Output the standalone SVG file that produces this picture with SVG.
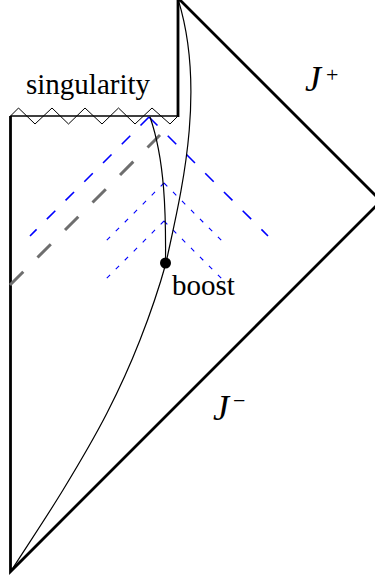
<svg xmlns="http://www.w3.org/2000/svg" width="375" height="575" viewBox="0 0 375 575">
  <style>
    .bd { fill: none; stroke: #000; stroke-width: 2.8; stroke-linejoin: miter; stroke-linecap: butt; }
    .thin { fill: none; stroke: #000; stroke-width: 1; }
    .wl { fill: none; stroke: #000; stroke-width: 1.2; }
    .bigblue { fill: none; stroke: #0000ff; stroke-width: 1.6; stroke-dasharray: 12 14.5; }
    .smallblue { fill: none; stroke: #0000ff; stroke-width: 1.1; stroke-dasharray: 4.7 8; }
    .gray { fill: none; stroke: #6e6e6e; stroke-width: 3; stroke-dasharray: 18.8 20.1; }
    .lbl { font-family: "Liberation Serif", "Times New Roman", serif; font-size: 29px; fill: #000; }
    .cal { font-family: "Liberation Serif", "Times New Roman", serif; font-style: italic; font-size: 36px; fill: #000; }
    .sup { font-family: "Liberation Serif", "Times New Roman", serif; font-size: 22px; fill: #000; }
  </style>
  <rect width="375" height="575" fill="#fff"/>
  <g id="connectors">
    <g id="boundary">
      <path class="bd" d="M10.5,116 L10.5,571.5 L381,201 L178,-2 L178,117"/>
      <line x1="10.5" y1="116" x2="178" y2="116" stroke="#000" stroke-width="1.6"/>
      <path class="thin" d="M10.5,116 L18.5,108 L35,124 L52,108 L68.5,124 L85,108 L102,124 L118.5,108 L135,124 L152,108 L170,124 L178,116"/>
    </g>
    <g id="light-rays">
      <line class="gray" x1="10" y1="285" x2="160" y2="135"/>
      <path class="bigblue" d="M149,117 L30,236"/>
      <path class="bigblue" d="M149,117 L268,236"/>
      <path class="smallblue" d="M164,183 L104,243"/>
      <path class="smallblue" d="M164,183 L224,243"/>
      <path class="smallblue" d="M164,221 L105,280"/>
      <path class="smallblue" d="M164,221 L224,281"/>
    </g>
    <g id="worldlines">
      <path class="wl" d="M11,571 C28.3,544 47,516.3 63,490 C79,463.7 94.2,438 107,413 C119.8,388 130.2,365 140,340 C149.8,315 159.7,285.8 166,263 C178,205 208,95 178,-1"/>
      <path class="wl" d="M165.5,263 C166,215 165,160 150,117"/>
    </g>
  </g>
  <g id="boost">
    <circle cx="165.5" cy="263" r="5.5" fill="#000"/>
    <text class="lbl" x="172" y="295">boost</text>
  </g>
  <g id="singularity">
    <text class="lbl" x="26" y="94">singularity</text>
  </g>
  <g id="scri-plus">
    <text class="cal" x="305" y="91">J</text>
    <text class="sup" x="326" y="82">+</text>
  </g>
  <g id="scri-minus">
    <text class="cal" x="213" y="420">J</text>
    <text class="sup" x="233" y="408">−</text>
  </g>
</svg>
